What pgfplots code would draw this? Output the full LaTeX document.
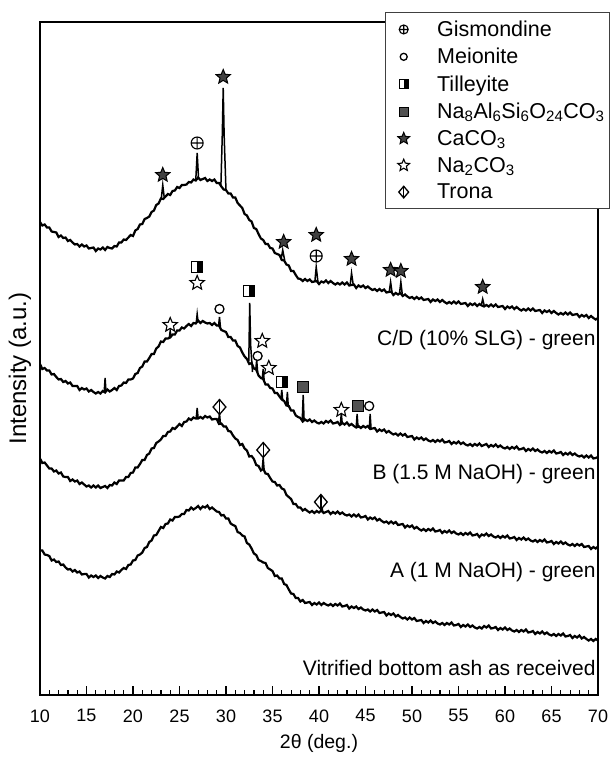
\documentclass[border=0pt]{standalone}
\usepackage{fontspec}
\setmainfont{Liberation Sans}
\usepackage{pgfplots}
\pgfplotsset{compat=1.18}
\usepackage{pgfplotstable}

\pgfdeclareplotmark{pstar}{%
  \pgfpathmoveto{\pgfqpoint{0pt}{\pgfplotmarksize}}%
  \pgfpathlineto{\pgfqpoint{-0.265\pgfplotmarksize}{0.364\pgfplotmarksize}}%
  \pgfpathlineto{\pgfqpoint{-0.951\pgfplotmarksize}{0.309\pgfplotmarksize}}%
  \pgfpathlineto{\pgfqpoint{-0.428\pgfplotmarksize}{-0.139\pgfplotmarksize}}%
  \pgfpathlineto{\pgfqpoint{-0.588\pgfplotmarksize}{-0.809\pgfplotmarksize}}%
  \pgfpathlineto{\pgfqpoint{0pt}{-0.45\pgfplotmarksize}}%
  \pgfpathlineto{\pgfqpoint{0.588\pgfplotmarksize}{-0.809\pgfplotmarksize}}%
  \pgfpathlineto{\pgfqpoint{0.428\pgfplotmarksize}{-0.139\pgfplotmarksize}}%
  \pgfpathlineto{\pgfqpoint{0.951\pgfplotmarksize}{0.309\pgfplotmarksize}}%
  \pgfpathlineto{\pgfqpoint{0.265\pgfplotmarksize}{0.364\pgfplotmarksize}}%
  \pgfpathclose
  \pgfusepathqfillstroke}
\pgfdeclareplotmark{tilley}{%
  \pgfpathrectangle{\pgfqpoint{-\pgfplotmarksize}{-\pgfplotmarksize}}{\pgfqpoint{2\pgfplotmarksize}{2\pgfplotmarksize}}%
  \pgfsetfillcolor{white}\pgfusepathqfill
  \pgfpathrectangle{\pgfqpoint{0pt}{-\pgfplotmarksize}}{\pgfqpoint{\pgfplotmarksize}{2\pgfplotmarksize}}%
  \pgfsetfillcolor{black}\pgfusepathqfill
  \pgfpathrectangle{\pgfqpoint{-\pgfplotmarksize}{-\pgfplotmarksize}}{\pgfqpoint{2\pgfplotmarksize}{2\pgfplotmarksize}}%
  \pgfusepathqstroke}
\pgfdeclareplotmark{trona}{%
  \pgfpathmoveto{\pgfqpoint{0pt}{\pgfplotmarksize}}%
  \pgfpathlineto{\pgfqpoint{0.85\pgfplotmarksize}{0pt}}%
  \pgfpathlineto{\pgfqpoint{0pt}{-\pgfplotmarksize}}%
  \pgfpathlineto{\pgfqpoint{-0.85\pgfplotmarksize}{0pt}}%
  \pgfpathclose
  \pgfusepathqfillstroke
  \pgfpathmoveto{\pgfqpoint{0pt}{\pgfplotmarksize}}%
  \pgfpathlineto{\pgfqpoint{0pt}{-\pgfplotmarksize}}%
  \pgfusepathqstroke}

\pgfplotstableread{
x c1 c2 c3 c4
10 222 364 458.5 550.5
10.25 225.5 369 463 550.5
10.5 224.5 368 462.5 554.5
10.75 227.5 370.5 465.5 555
11 227.5 370.5 468.5 556
11.25 231.5 374.5 468.5 560.5
11.5 232 374 471.5 559.5
11.75 232.5 377 470.5 562
12 237 379.5 473.5 561.5
12.25 235.5 379 472.5 565
12.5 238 382 476.5 564.5
12.75 237.5 381 477 567.5
13 241 383.5 477 569.5
13.25 240 382.5 481 569
13.5 242.5 386 479.5 571.5
13.75 244.5 386 481.5 570
14 244 386 480.5 572.5
14.25 246.5 390 484 571.5
14.5 244.5 388 482.5 574.5
14.75 246.5 389.5 484.5 574
15 245.5 388.5 486.5 574
15.25 248.5 391.5 485.5 577.5
15.5 248 390 487.5 575.5
15.75 247.5 392 485.5 577
16 251 393.5 487.5 575.5
16.25 248.5 392 485.5 578
16.5 249.5 393.5 488 576
16.75 247.5 391 487 577.5
17 250 392.5 486 578.5
17.25 247 389.5 488 576
17.5 248 391.5 485 577
17.75 248.5 390 485.5 574
18 246 388 482.5 574.5
18.25 246.5 390 484 571.5
18.5 242.5 386 480.5 572.5
18.75 242.5 385.5 480.5 570
19 239.5 382.5 480.5 568
19.25 240 383 477 569
19.5 237.5 379.5 477 565
19.75 235 379.5 473 564.5
20 236 378.5 472.5 560.5
20.25 230.5 374 467.5 560
20.5 229 373 467.5 555.5
20.75 224.5 368 464 554.5
21 224 366.5 460 552.5
21.25 219 361.5 460 548
21.5 218 361.5 455 547
21.75 216.5 358 453.5 542
22 212 354 448.5 540.5
22.25 210.5 354 448 535.5
22.5 205 348.5 443 535
22.75 203.5 346.5 441.5 531
23 198.5 341.5 439.5 527
23.25 199 342 436 528
23.5 196.5 338.5 436 524
23.75 194 338.5 432 523.5
24 195 337.5 431.5 519.5
24.25 191 334.5 428 520.5
24.5 190.5 334.5 429 517
24.75 187 330.5 426.5 517
25 188 330.5 424 516.5
25.25 185 327.5 426 514
25.5 185 328.5 422 514
25.75 184.5 326 421.5 510
26 182 324 418.5 510.5
26.25 182.5 326 420 507.5
26.5 179.5 323 417.5 509.5
26.75 180.5 323.5 418.5 508
27 177.5 320.5 418.5 506
27.25 180 323 417 509
27.5 179 321 418.5 506.5
27.75 178 322.5 416 507.5
28 181 323.5 417.5 505.5
28.25 179.5 323 416.5 509
28.5 181 325 419.5 507.5
28.75 179.5 323 419 509.5
29 183 325.5 419 511.5
29.25 183 325.5 424 512
29.5 186.5 330 423.5 515.5
29.75 189.5 331 426.5 515
30 190 332 426.5 518.5
30.25 193.5 337 431 518.5
30.5 193.5 337 431.5 523.5
30.75 197.5 340.5 435.5 525
31 197.5 340.5 438.5 526
31.25 203 346 440 532
31.5 205.5 347.5 445 533
31.75 208 352.5 444 535.5
32 214 356.5 448.5 536.5
32.25 215.5 359 450.5 543
32.5 220 364 456.5 544.5
32.75 221.5 363 456 548.5
33 228 368.5 459 553.5
33.25 229 369.5 465 555
33.5 234 375.5 466 560
33.75 238.5 378 470.5 561
34 240 379 468.5 562.5
34.25 244 384.5 473.5 563
34.5 244 384.5 474 568
34.75 248 388 478 569.5
35 248.5 388.5 481.5 571
35.25 253 393 482 576
35.5 254 393 485.5 575.5
35.75 255 396.5 485 578.5
36 260 399.5 488.5 578.5
36.25 260.5 401 489.5 584
36.5 264.5 405.5 495 585
36.75 265.5 406 497 589.5
37 271 410.5 499 593.5
37.25 271 410.5 504 594
37.5 275 415.5 504 598
37.75 278.5 417 507.5 598
38 279 418 507.5 601.5
38.25 281 421.5 510.5 600
38.5 279 419.5 509 603
38.75 281 421 511 602.5
39 279.5 419.5 512.5 602
39.25 282 422 511 605
39.5 281.5 420.5 513 603
39.75 281 422.5 511 604.5
40 284 423.5 512.5 602.5
40.25 281.5 422 510.5 605
40.5 282.5 423.5 513 603
40.75 280.5 421 512 604.5
41 283 422.5 511 605.5
41.25 281 420.5 514 604
41.5 283 423.5 512 606
41.75 284.5 423 513.5 604
42 283 422 511.5 605.5
42.25 284.5 425 514 603.5
42.5 282.5 423 512.5 606.5
42.75 284.5 424.5 514.5 606
43 282.5 422.5 515.5 605
43.25 285.5 425.5 514.5 608.5
43.5 285 424 516.5 606.5
43.75 284.5 426 514.5 608
44 288 427.5 516.5 606.5
44.25 285.5 426 514.5 609
44.5 287 428 517.5 607.5
44.75 285.5 426 517 609.5
45 288 427.5 516 610.5
45.25 286.5 426 519.5 609.5
45.5 288.5 429 517.5 611.5
45.75 290 428.5 519 609.5
46 289 428 517.5 611.5
46.25 291 431.5 520.5 610
46.5 289 429.5 519 613
46.75 291 431 521 612.5
47 289.5 429.5 522.5 612
47.25 292.5 432.5 521.5 615.5
47.5 292 431 523.5 613.5
47.75 291.5 433 521.5 615
48 295 434.5 523.5 613.5
48.25 293 433.5 522 616.5
48.5 294.5 435.5 525 615
48.75 293 433.5 524.5 617
49 296 435.5 524 618.5
49.25 294.5 434 527.5 617.5
49.5 296.5 437 525.5 619.5
49.75 298 436.5 527 617.5
50 297 436 525.5 619.5
50.25 299 439.5 528.5 618
50.5 297 437.5 527 621
50.75 299 439 529 620.5
51 297.5 437.5 530.5 620
51.25 300 440 529 623
51.5 299.5 438.5 531 621
51.75 299 440.5 529 622.5
52 302 441.5 530.5 620.5
52.25 299.5 440 528.5 623
52.5 301 442 531.5 621.5
52.75 299.5 440 531 623.5
53 302 441.5 530 624.5
53.25 300 439.5 533 623
53.5 302 442.5 531 625
53.75 303.5 442 532.5 623
54 302 441 530.5 624.5
54.25 303.5 444 533 622.5
54.5 301.5 442 531.5 625.5
54.75 303.5 443.5 533.5 625
55 301.5 441.5 534.5 624
55.25 304 444 533 627
55.5 303.5 442.5 535 625
55.75 303 444.5 533 626.5
56 306 445.5 534.5 624.5
56.25 303.5 444 532.5 627
56.5 305 446 535.5 625.5
56.75 303.5 444 535 627.5
57 306 445.5 534 628.5
57.25 304 443.5 537 627
57.5 305.5 446 534.5 628.5
57.75 306.5 445 535.5 626
58 305 444 533.5 627.5
58.25 306.5 447 536 625.5
58.5 304.5 445 534.5 628.5
58.75 306.5 446.5 536.5 628
59 304.5 444.5 537.5 627
59.25 307 447 536 630
59.5 306.5 445.5 538 628
59.75 306 447.5 536 629.5
60 309 448.5 537.5 627.5
60.25 306.5 447 535.5 630
60.5 308 449 538.5 628.5
60.75 306.5 447 538 630.5
61 309 448.5 537 631.5
61.25 307 446.5 540 630
61.5 309 449.5 538 632
61.75 310.5 449 539.5 630
62 309 448 537.5 631.5
62.25 310.5 451 540 629.5
62.5 308.5 449 538.5 632.5
62.75 310.5 450.5 540.5 632
63 308.5 448.5 541.5 631
63.25 311 451 540 634
63.5 310.5 449.5 542 632
63.75 310 451.5 540 633.5
64 313 452.5 541.5 631.5
64.25 310.5 451 539.5 634
64.5 312 453 542.5 632.5
64.75 310.5 451 542 634.5
65 313 452.5 541 635.5
65.25 311 450.5 544 634
65.5 313 453.5 542 636
65.75 314.5 453 543.5 634
66 313 452 541.5 635.5
66.25 314.5 455 544 633.5
66.5 312.5 453 542.5 636.5
66.75 314.5 454.5 544.5 636
67 312.5 452.5 545.5 635
67.25 315 455 544 638
67.5 314.5 453.5 546 636
67.75 314 455.5 544 637.5
68 317 456.5 545.5 635.5
68.25 315 455.5 544 638.5
68.5 316.5 457.5 547 637
68.75 315 455.5 546.5 639
69 318 457.5 546 640.5
69.25 316 455.5 549 639
69.5 318 458.5 547 641
69.75 319.5 458 548.5 639
70 318 457 546.5 640.5
}\xrd

\begin{document}
\begin{tikzpicture}
\useasboundingbox (0,0) rectangle (612bp,760bp);
\begin{axis}[
  at={(40bp,65bp)}, anchor=south west,
  scale only axis, width=558bp, height=673bp,
  xmin=10, xmax=70, ymin=22, ymax=695, y dir=reverse,
  axis line style={line width=1.8bp},
  xtick={10,15,...,70}, minor x tick num=4,
  xtick pos=lower, ytick=\empty,
  tick align=inside,
  major tick length=9bp, minor tick length=5bp,
  every tick/.style={black, line width=1.2bp},
  /pgf/number format/assume math mode=true,
  xticklabel style={font=\fontsize{18bp}{20bp}\selectfont, yshift=-11bp},
  xlabel={2θ (deg.)},
  xlabel style={font=\fontsize{19.5bp}{22bp}\selectfont, at={(axis description cs:0.5,-0.0713)}, anchor=center},
  ylabel={Intensity (a.u.)},
  ylabel style={font=\fontsize{24bp}{26bp}\selectfont, at={(axis description cs:-0.036,0.485)}, anchor=center},
  legend style={at={(axis description cs:1.0215,1.0149)}, anchor=north east,
    draw=black!75, line width=0.9bp, fill=white,
    font=\fontsize{21.5bp}{24bp}\selectfont,
    inner xsep=3bp, inner ysep=6.5bp, row sep=6.3bp},
  legend cell align=left,
  every axis plot post/.append style={legend image code/.code={\path (0bp,0bp) (46bp,0bp); \draw[##1] plot coordinates {(15bp,0bp)};}},
  clip=false,
]
% curves
\addplot[forget plot, black, line width=2.2bp] table[x=x,y=c1]{\xrd};
\addplot[forget plot, black, line width=2.2bp] table[x=x,y=c2]{\xrd};
\addplot[forget plot, black, line width=2.2bp] table[x=x,y=c3]{\xrd};
\addplot[forget plot, black, line width=2.2bp] table[x=x,y=c4]{\xrd};
% peaks curve 1
\addplot[forget plot, black, line width=1.5bp] coordinates {(23.05,198) (23.2,185) (23.35,197)};
\addplot[forget plot, black, line width=1.5bp] coordinates {(26.75,180) (26.9,153) (27.05,179)};
\addplot[forget plot, black, line width=1.5bp] coordinates {(29.45,186) (29.6,135) (29.7,88) (29.8,135) (30.0,191)};
\addplot[forget plot, black, line width=1.5bp] coordinates {(35.95,258) (36.1,250) (36.3,260)};
\addplot[forget plot, black, line width=1.5bp] coordinates {(39.55,282) (39.7,267) (39.9,283)};
\addplot[forget plot, black, line width=1.5bp] coordinates {(43.35,285) (43.5,273) (43.7,286)};
\addplot[forget plot, black, line width=1.5bp] coordinates {(47.55,292) (47.7,282) (47.85,292)};
\addplot[forget plot, black, line width=1.5bp] coordinates {(48.65,294) (48.8,282) (48.95,294)};
\addplot[forget plot, black, line width=1.5bp] coordinates {(57.45,305) (57.6,299) (57.75,305)};
% peaks curve 2
\addplot[forget plot, black, line width=1.5bp] coordinates {(16.9,392) (17.0,378) (17.1,392)};
\addplot[forget plot, black, line width=1.5bp] coordinates {(23.9,338) (24.0,331) (24.1,337)};
\addplot[forget plot, black, line width=1.5bp] coordinates {(26.8,323) (26.9,314) (27.0,322)};
\addplot[forget plot, black, line width=1.5bp] coordinates {(29.2,326) (29.3,317) (29.4,327)};
\addplot[forget plot, black, line width=1.5bp] coordinates {(32.45,361) (32.55,303) (32.65,345) (32.85,372)};
\addplot[forget plot, black, line width=1.5bp] coordinates {(33.2,370) (33.3,360) (33.4,372)};
\addplot[forget plot, black, line width=1.5bp] coordinates {(33.9,378) (34.0,369) (34.1,380)};
\addplot[forget plot, black, line width=1.5bp] coordinates {(35.9,399) (36.0,390) (36.1,401)};
\addplot[forget plot, black, line width=1.5bp] coordinates {(36.5,405) (36.6,392) (36.7,407)};
\addplot[forget plot, black, line width=1.5bp] coordinates {(38.2,420) (38.3,395) (38.4,421)};
\addplot[forget plot, black, line width=1.5bp] coordinates {(42.3,424) (42.4,413) (42.5,424)};
\addplot[forget plot, black, line width=1.5bp] coordinates {(44.0,427) (44.1,414) (44.2,428)};
\addplot[forget plot, black, line width=1.5bp] coordinates {(45.4,429) (45.5,414) (45.6,429)};
% peaks curve 3
\addplot[forget plot, black, line width=1.5bp] coordinates {(26.8,418) (26.9,408) (27.0,418)};
\addplot[forget plot, black, line width=1.5bp] coordinates {(29.2,422) (29.3,413) (29.4,424)};
\addplot[forget plot, black, line width=1.5bp] coordinates {(33.9,468) (34.0,458) (34.1,470)};
\addplot[forget plot, black, line width=1.5bp] coordinates {(40.2,511) (40.3,505) (40.4,512)};
% phase markers
\addplot[only marks, mark=oplus, mark size=6bp, mark options={line width=1.1bp, fill=white, draw=black}, legend image post style={mark size=4.5bp}] coordinates {(26.9,143) (39.7,256)};
\addlegendentry{Gismondine}
\addplot[only marks, mark=*, mark size=4.5bp, mark options={line width=1.3bp, fill=white, draw=black}, legend image post style={mark size=3.5bp}] coordinates {(29.3,309) (33.4,356) (45.4,406)};
\addlegendentry{Meionite}
\addplot[only marks, mark=tilley, mark size=5.5bp, mark options={line width=1bp, draw=black}, legend image post style={mark size=4.3bp}] coordinates {(26.9,267) (32.5,291) (36.0,382)};
\addlegendentry{Tilleyite}
\addplot[only marks, mark=square*, mark size=5.5bp, mark options={line width=1bp, fill=black!68, draw=black}, legend image post style={mark size=4.5bp}] coordinates {(38.3,387) (44.2,406)};
\addlegendentry{Na\textsubscript{8}Al\textsubscript{6}Si\textsubscript{6}O\textsubscript{24}CO\textsubscript{3}}
\addplot[only marks, mark=pstar, mark size=7.5bp, mark options={line width=1bp, fill=black!75, draw=black}, legend image post style={mark size=6.2bp}] coordinates {(23.2,175) (29.7,77) (36.2,242) (39.7,235) (43.5,259) (47.7,270) (48.8,271) (57.6,287)};
\addlegendentry{CaCO\textsubscript{3}}
\addplot[only marks, mark=pstar, mark size=7.5bp, mark options={line width=1.1bp, fill=white, draw=black}, legend image post style={mark size=6.2bp}] coordinates {(26.9,283) (24.0,325) (33.9,341) (34.6,368) (42.4,410)};
\addlegendentry{Na\textsubscript{2}CO\textsubscript{3}}
\addplot[only marks, mark=trona, mark size=7.5bp, mark options={line width=1.3bp, fill=white, draw=black}, legend image post style={mark size=5.8bp}] coordinates {(29.3,407) (34.0,450) (40.2,502)};
\addlegendentry{Trona}
% sample labels
\node[anchor=east, inner sep=0pt, font=\fontsize{21bp}{24bp}\selectfont] at (axis cs:69.75,340) {C/D (10\% SLG) - green};
\node[anchor=east, inner sep=0pt, font=\fontsize{21bp}{24bp}\selectfont] at (axis cs:69.75,474) {B (1.5 M NaOH) - green};
\node[anchor=east, inner sep=0pt, font=\fontsize{21bp}{24bp}\selectfont] at (axis cs:69.75,572) {A (1 M NaOH) - green};
\node[anchor=east, inner sep=0pt, font=\fontsize{21bp}{24bp}\selectfont] at (axis cs:69.75,668) {Vitrified bottom ash as received};
\end{axis}
\end{tikzpicture}
\end{document}
